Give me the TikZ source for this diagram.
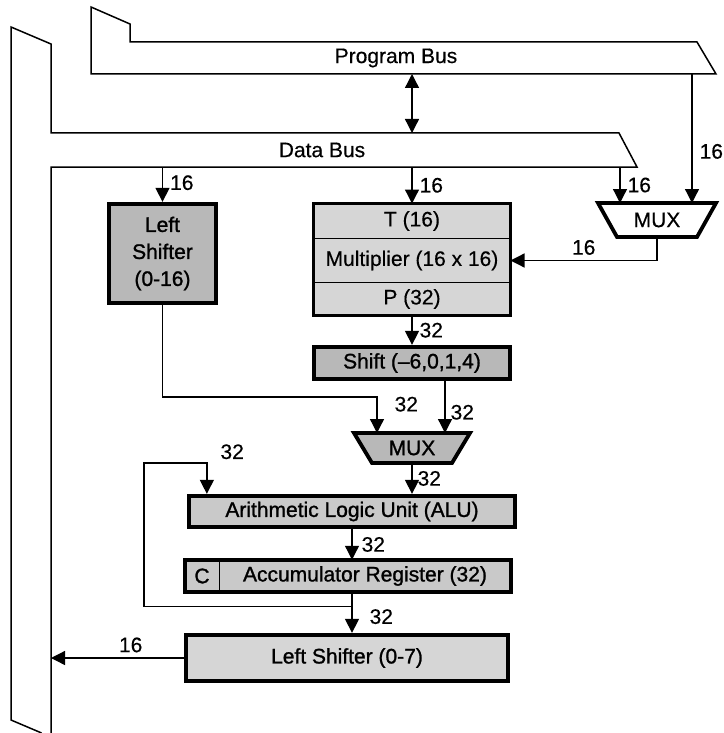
\documentclass[tikz,border=0pt]{standalone}
\usepackage{fontspec}
\setmainfont{Liberation Sans}[FakeBold=0.4]
\newfontfamily\heavyfont{Liberation Sans}[FakeBold=1.2]
\usetikzlibrary{%
  arrows.meta,%
  calc,%
  backgrounds%
}
\definecolor{boxlight}{gray}{0.84}
\definecolor{boxmid}{gray}{0.79}
\definecolor{boxdark}{gray}{0.72}
\tikzset{>={Triangle[width=14pt,length=14pt]}}
\tikzset{
  inked/.style={font=\heavyfont\fontsize{21}{27}\selectfont},
  unit/.style={draw,line width=3.8pt,inner sep=0pt,inked},
  part/.style={draw,line width=1.3pt,inner sep=0pt,outer sep=0pt,fill=boxlight},
  frame/.style={line width=3.8pt},
  mux/.style={inner sep=0pt,outer sep=0pt},
  wire/.style={line width=1.3pt},
  bus/.style={line width=1.5pt,line join=miter},
  bits/.style={inner sep=1pt}
}

\begin{document}
\begin{tikzpicture}[x=1pt,y=-1pt,font=\fontsize{21}{27}\selectfont]
        \useasboundingbox (0,0) rectangle (723,733);
        % buses
        \draw[bus] (91,74) -- (91,7) -- (130,24) -- (130,42) -- (697,42)
        -- (716,74) -- cycle;
        \draw[bus] (41.6,733) -- (11,720) -- (11,27) -- (51,44) -- (51,133)
        -- (619,133) -- (637,167) -- (51,167) -- (51,733);
        \node (pbus) at (396,58) {Program Bus};
        \node (dbus) at (322,150) {Data Bus};
        \coordinate (pb-db) at (412,74);
        \coordinate (db-pb) at (412,133);
        \coordinate (pb-mux) at (692,74);
        \coordinate (db-lsh) at (162.5,167);
        \coordinate (db-t) at (412,167);
        \coordinate (db-mux) at (620,167);
        \coordinate (db-ret) at (51,658);
        % units
        \node[unit,fill=boxdark,minimum width=107.5pt,minimum height=99.5pt,
        align=center] (lsh) at (162.5,253.5) {Left\\Shifter\\(0-16)};
        \node[part,minimum width=197pt,minimum height=35pt] (t) at (412,221)
        {T (16)};
        \node[part,minimum width=197pt,minimum height=44pt] (mul)
        at (412,260.5) {Multiplier (16 x 16)};
        \node[part,minimum width=197pt,minimum height=33pt] (p) at (412,299)
        {P (32)};
        \draw[frame] (t.north west) rectangle (p.south east);
        \node[mux,minimum width=118pt,minimum height=34pt] (mux1) at (657,220)
        {MUX};
        \draw[frame,line join=miter] (mux1.north west) -- (mux1.north east)
        -- ([xshift=-19pt]mux1.south east) -- ([xshift=19pt]mux1.south west)
        -- cycle;
        \node[unit,fill=boxdark,minimum width=196.5pt,minimum height=32.5pt]
        (shift) at (412,363) {Shift (–6,0,1,4)};
        \node[mux,inked,minimum width=116pt,minimum height=30pt] (mux2)
        at (412,448) {MUX};
        \begin{pgfonlayer}{background}
          \draw[frame,line join=miter,fill=boxdark] (mux2.north west)
          -- (mux2.north east) -- ([xshift=-18pt]mux2.south east)
          -- ([xshift=18pt]mux2.south west) -- cycle;
        \end{pgfonlayer}
        \node[unit,fill=boxmid,minimum width=326.5pt,minimum height=31.5pt]
        (alu) at (352,511.5) {Arithmetic Logic Unit (ALU)};
        \node[part,inked,fill=boxmid,minimum width=34.5pt,
        minimum height=32.5pt] (c) at (202,576) {C};
        \node[part,inked,fill=boxmid,minimum width=291.5pt,
        minimum height=32.5pt] (acc) at (365,576) {Accumulator Register (32)};
        \draw[frame] (c.north west) rectangle (acc.south east);
        \node[unit,fill=boxlight,minimum width=322.5pt,minimum height=46.5pt]
        (ls7) at (347,658) {Left Shifter (0-7)};
        % connections
        \draw[wire,<->] (pb-db) -- (db-pb);
        \draw[wire,->] (pb-mux) -- (pb-mux |- mux1.north)
        node[bits,right=6pt,pos=0.6] {16};
        \draw[wire,->] (db-lsh) -- (lsh.north) node[bits,right=6pt,pos=0.45] {16};
        \draw[wire,->] (db-t) -- (t.north) node[bits,right=6pt,pos=0.5] {16};
        \draw[wire,->] (db-mux) -- (db-mux |- mux1.north)
        node[bits,right=6pt,pos=0.5] {16};
        \draw[wire,->] (mux1.south) |- (mul.east) node[bits,above=4pt,pos=0.75] {16};
        \draw[wire,->] (p.south) -- (shift.north) node[bits,right=6pt,midway] {32};
        \draw[wire,->] (lsh.south) |- ($(mux2.north)+(-35,-36)$)
        -- ($(mux2.north)+(-35,0)$) node[bits,right=16pt,pos=0.2] {32};
        \draw[wire,->] ($(shift.south)+(33,0)$) -- ($(mux2.north)+(33,0)$)
        node[bits,right=4pt,pos=0.6] {32};
        \draw[wire,->] (mux2.south) -- (mux2.south |- alu.north)
        node[bits,right=4pt,midway] {32};
        \draw[wire,->] (alu.south) -- (alu.south |- acc.north)
        node[bits,right=8pt,midway] {32};
        \draw[wire,->] (alu.south |- acc.south) -- (alu.south |- ls7.north)
        node[bits,right=16pt,pos=0.6] {32};
        \draw[wire,->] ($(acc.south -| alu.south)+(0,14)$)
        -| ($(alu.north west)+(-43,-31)$) -| ($(alu.north west)+(20,0)$)
        node[bits,pos=0.5,anchor=south west,xshift=12pt,yshift=2pt] {32};
        \draw[wire,->] (ls7.west) -- (db-ret) node[bits,above=4pt,pos=0.4] {16};
      \end{tikzpicture}
\end{document}
